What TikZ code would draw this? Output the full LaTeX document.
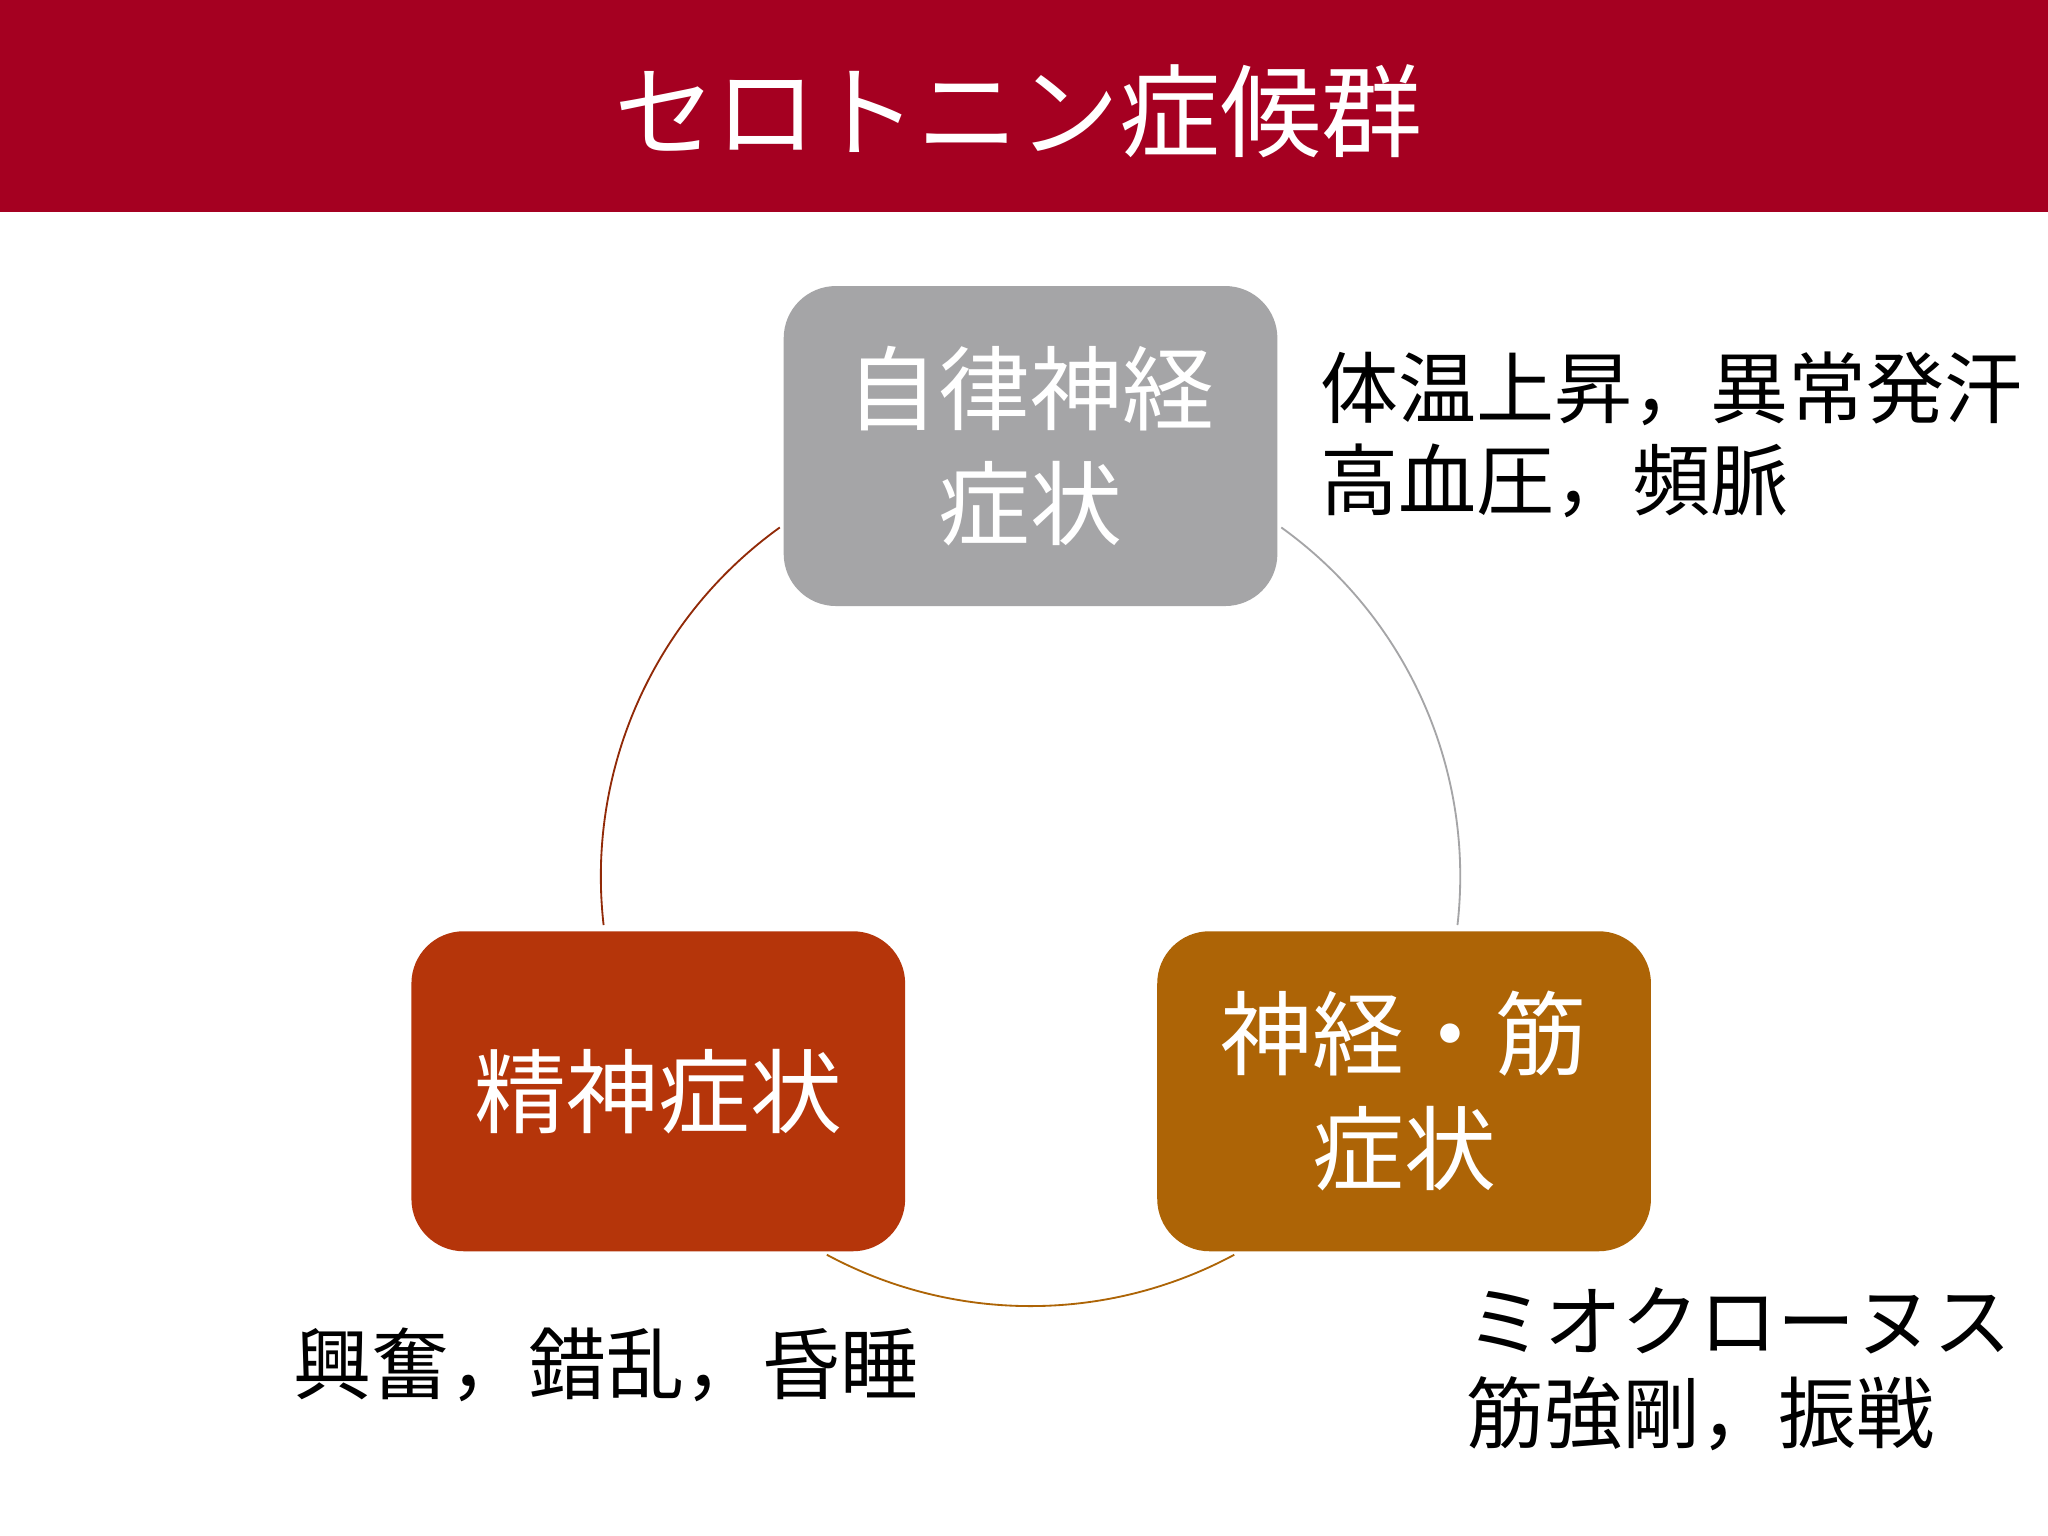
\documentclass[tikz,border=0pt]{standalone}
\usepackage{fontspec}
\setmainfont{Noto Sans CJK JP}
\definecolor{hdr}{HTML}{A50021}
\definecolor{gbox}{HTML}{A5A5A7}
\definecolor{rbox}{HTML}{B5350A}
\definecolor{obox}{HTML}{AD6406}
\tikzset{
 box/.style={rounded corners=0.4cm,minimum width=3.78cm,minimum height=2.45cm,text=white,align=center,font=\fontsize{20}{25}\selectfont,inner sep=0pt},
 lbl/.style={align=left,font=\fontsize{17}{20}\selectfont,inner sep=0pt},
}
\begin{document}
\begin{tikzpicture}
\useasboundingbox (0,0) rectangle (15.68,-11.76);
\fill[white] (0,0) rectangle (15.68,-11.76);
\fill[hdr] (0,0) rectangle (15.68,-1.62);
\node[text=white,font=\fontsize{22}{26}\selectfont] (title) at (7.8,-0.85) {セロトニン症候群};
\coordinate (c) at (7.89,-6.71);
\draw[rbox!80!black,line width=0.4pt] (c) ++(125.7:3.29) arc (125.7:186.5:3.29);
\draw[gbox,line width=0.4pt] (c) ++(54.3:3.29) arc (54.3:-6.5:3.29);
\draw[obox,line width=0.4pt] (c) ++(241.7:3.29) arc (241.7:298.3:3.29);
\node[box,fill=gbox] (a) at (7.89,-3.415) {自律神経\\症状};
\node[box,fill=rbox] (b) at (5.04,-8.355) {精神症状};
\node[box,fill=obox] (d) at (10.75,-8.355) {神経・筋\\症状};
\node[lbl,anchor=west] (la) at (10.1,-3.33) {体温上昇，異常発汗\\高血圧，頻脈};
\node[lbl] (lb) at (4.64,-10.45) {興奮，錯乱，昏睡};
\node[lbl,anchor=west] (ld) at (11.22,-10.48) {ミオクローヌス\\筋強剛，振戦};
\end{tikzpicture}
\end{document}
